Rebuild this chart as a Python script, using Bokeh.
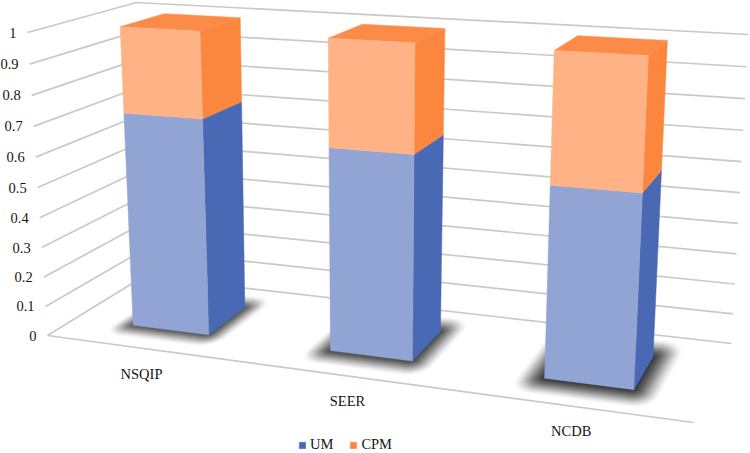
import numpy as np
from bokeh.embed import file_html
from bokeh.resources import INLINE
from bokeh.plotting import figure
from bokeh.models import Range1d, Legend, LegendItem, ColumnDataSource
from bokeh.core.properties import value

categories = ["NSQIP", "SEER", "NCDB"]
um = [0.72, 0.66, 0.60]
cpm = [0.28, 0.34, 0.40]
tick_values = [0, 0.1, 0.2, 0.3, 0.4, 0.5, 0.6, 0.7, 0.8, 0.9, 1]
tick_labels = ["0", "0.1", "0.2", "0.3", "0.4", "0.5", "0.6", "0.7", "0.8", "0.9", "1"]

# 3D box of the chart projected to the page
FLOOR = dict(fl=(47, 335), fr=(693, 422), bl=(143, 276), br=(731, 343))
ROOF = dict(fl=(27, 32), fr=(712, 70), bl=(136, 2), br=(748, 34))
BAR_W = 0.131
D0, D1 = 0.30, 0.73
FONT = "Liberation Serif"
GRID = "#c9c9c9"
TXT = "#141414"
SHADOW_ALPHA = [0.062, 0.072, 0.088]
SHADOW_SCALE = [0.9, 1.0, 1.1]


def warp(t, c):
    return t / (1 + c * (1 - t))


def quad(q, u, d):
    a = np.array(q["fl"]) * (1 - u) + np.array(q["fr"]) * u
    b = np.array(q["bl"]) * (1 - u) + np.array(q["br"]) * u
    return a * (1 - d) + b * d


def proj(s, d, v):
    u = warp(s, 0.132)
    w = warp(v, 0.048)
    return quad(FLOOR, u, d) * (1 - w) + quad(ROOF, u, d) * w


def poly(points):
    pts = [proj(*p) for p in points]
    return [float(p[0]) for p in pts], [float(p[1]) for p in pts]


def collect(polys):
    return dict(xs=[p[0] for p in polys], ys=[p[1] for p in polys])


p = figure(width=750, height=453, output_backend="svg", toolbar_location=None,
           x_range=Range1d(0, 750), y_range=Range1d(453, 0), min_border=0)
p.styles = {"position": "absolute", "left": "0px", "top": "0px"}
p.xaxis.visible = False
p.yaxis.visible = False
p.xgrid.visible = False
p.ygrid.visible = False
p.outline_line_color = None
p.background_fill_color = "white"

# gridlines: left wall and back wall at every tick
for v in tick_values:
    xs, ys = poly([(0, 0, v), (0, 1, v), (1, 1, v)])
    p.line(xs, ys, line_color=GRID, line_width=1.7)
xs, ys = poly([(0, 0, 0), (1, 0, 0)])
p.line(xs, ys, line_color=GRID, line_width=1.7)

# tick labels
tx, ty = [], []
for v in tick_values:
    q = proj(0, 0, v)
    tx.append(float(q[0]) - 11)
    ty.append(float(q[1]))
p.text(tx, ty, text=tick_labels, text_font=value(FONT), text_font_size="14.5px",
       text_color=TXT, text_align="right", text_baseline="middle")

# category labels
n = len(categories)
centers = [(i + 0.5) / n for i in range(n)]
lx, ly = [], []
for c in centers:
    q = proj(c, 0, 0)
    lx.append(float(q[0]) - 3)
    ly.append(float(q[1]) + 25)
p.text(lx, ly, text=categories, text_font=value(FONT), text_font_size="14.5px",
       text_color=TXT, text_align="center", text_baseline="middle")

# blurred contact shadows on the floor
LAYERS = 26
for c, alpha, scale in zip(centers, SHADOW_ALPHA, SHADOW_SCALE):
    for k in range(LAYERS):
        f = 1 - k / LAYERS
        es, ed = 0.036 * f * scale, 0.2 * f * scale
        s0, s1 = c - BAR_W / 2 - es, c + BAR_W / 2 + es
        d0, d1 = D0 - ed, D1 + ed
        rs, rd = 0.006 + 0.026 * f, 0.02 + 0.16 * f
        pts = []
        for (cs, cd, a0) in [(s1 - rs, d1 - rd, 0), (s0 + rs, d1 - rd, 90),
                             (s0 + rs, d0 + rd, 180), (s1 - rs, d0 + rd, 270)]:
            for a in np.radians(np.linspace(a0, a0 + 90, 7)):
                pts.append((cs + rs * np.cos(a), cd + rd * np.sin(a), 0))
        xs, ys = poly(pts)
        p.patch(xs, ys, fill_color="black", fill_alpha=alpha * ((k + 1) / LAYERS) ** 0.7,
                line_color=None)

# bar faces
um_side, um_front, cpm_side, cpm_front, tops = [], [], [], [], []
for c, a, b in zip(centers, um, cpm):
    s0, s1 = c - BAR_W / 2, c + BAR_W / 2
    t = a + b
    um_side.append(poly([(s1, D0, 0), (s1, D1, 0), (s1, D1, a), (s1, D0, a)]))
    um_front.append(poly([(s0, D0, 0), (s1, D0, 0), (s1, D0, a), (s0, D0, a)]))
    cpm_side.append(poly([(s1, D0, a), (s1, D1, a), (s1, D1, t), (s1, D0, t)]))
    cpm_front.append(poly([(s0, D0, a), (s1, D0, a), (s1, D0, t), (s0, D0, t)]))
    tops.append(poly([(s0, D0, t), (s1, D0, t), (s1, D1, t), (s0, D1, t)]))


def faces(polys, color):
    return p.patches(source=ColumnDataSource(collect(polys)), xs="xs", ys="ys",
                     fill_color=color, line_color=color, line_width=0.5)


r_um = faces(um_side, "#4a69b5")
faces(um_front, "#92a4d4")
r_cpm = faces(cpm_side, "#fb873f")
faces(tops, "#fd8b48")
faces(cpm_front, "#feb285")

legend = Legend(items=[LegendItem(label="UM", renderers=[r_um]),
                       LegendItem(label="CPM", renderers=[r_cpm])],
                orientation="horizontal", location=(298, 0),
                background_fill_alpha=0, border_line_color=None,
                label_text_font=FONT, label_text_font_size="14.5px", label_text_color=TXT,
                glyph_width=8, glyph_height=8, label_standoff=4, spacing=16,
                padding=0, margin=0, label_height=14)
p.add_layout(legend, "center")

open("out.html", "w").write(file_html(p, INLINE))
